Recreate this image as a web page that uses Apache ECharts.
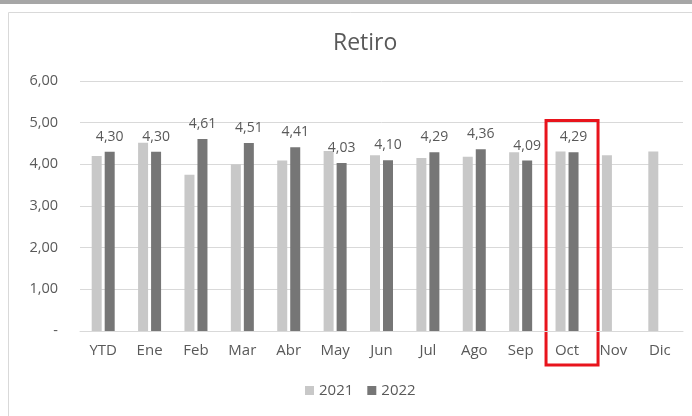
<!DOCTYPE html>
<html><head><meta charset="utf-8">
<script src="https://cdn.jsdelivr.net/npm/echarts@6/dist/echarts.min.js"></script>
<style>html,body{margin:0;padding:0;background:#fff}#c{width:692px;height:416px}</style>
</head><body><div id="c"></div>
<script>
const categories = ['YTD','Ene','Feb','Mar','Abr','May','Jun','Jul','Ago','Sep','Oct','Nov','Dic'];
const values2021 = [4.20,4.52,3.75,4.00,4.09,4.32,4.22,4.15,4.18,4.29,4.31,4.22,4.31];
const values2022 = [4.30,4.30,4.61,4.51,4.41,4.03,4.10,4.29,4.36,4.09,4.29,null,null];
const yTicks = [0,1,2,3,4,5,6];
const highlight = 'Oct';

const chart = echarts.init(document.getElementById('c'));
const fmt = v => v === 0 ? '-' : v.toFixed(2).replace('.', ',');
chart.setOption({
  animation:false,
  textStyle:{fontFamily:'Open Sans, Liberation Sans, sans-serif'},
  title:{text:'Retiro',left:328,top:27,textStyle:{fontSize:23,fontWeight:'normal',color:'#595959',fontFamily:'Open Sans, sans-serif'}},
  legend:{top:378,left:300,itemWidth:9,itemHeight:9,itemGap:14,icon:'rect',
    textStyle:{fontSize:15,color:'#595959'},data:['2021','2022']},
  grid:{left:80,right:9,top:81,bottom:85,containLabel:false},
  xAxis:{type:'category',data:categories,axisTick:{show:false},
    axisLine:{lineStyle:{color:'#d9d9d9'}},
    axisLabel:{color:'#595959',fontSize:15,margin:12}},
  yAxis:{type:'value',min:yTicks[0],max:yTicks[yTicks.length-1],interval:1,
    axisLabel:{color:'#595959',fontSize:14.5,margin:22,formatter:fmt},
    splitLine:{lineStyle:{color:'#d9d9d9'}}},
  series:[
    {name:'2021',type:'bar',data:values2021,barWidth:10,barGap:'30%',itemStyle:{color:'#c8c8c8'}},
    {name:'2022',type:'bar',data:values2022,barWidth:10,itemStyle:{color:'#767676'},
      label:{show:true,position:'top',distance:8,color:'#595959',fontSize:14,
        formatter:p=>p.value==null?'':fmt(p.value)}}
  ]
});
const idx = categories.indexOf(highlight);
const cx = chart.convertToPixel({xAxisIndex:0}, idx);
const yTop = chart.convertToPixel({yAxisIndex:0}, 5.05);
const yBase = chart.convertToPixel({yAxisIndex:0}, 0);
chart.setOption({graphic:[
  {type:'rect',shape:{x:0,y:0,width:692,height:4},style:{fill:'#a6a6a6'},silent:true},
  {type:'rect',shape:{x:8.5,y:12.5,width:700,height:420},style:{fill:null,stroke:'#d9d9d9',lineWidth:1},silent:true},
  {type:'rect',shape:{x:cx-21,y:yTop,width:52,height:yBase-yTop+34},
    style:{fill:null,stroke:'#e8141c',lineWidth:3},silent:true}
]});
</script></body></html>
